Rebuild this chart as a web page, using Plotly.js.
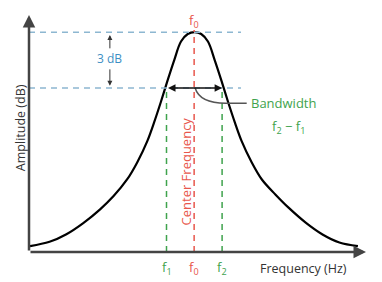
<!DOCTYPE html>
<html><head><meta charset="utf-8">
<script src="https://cdn.plot.ly/plotly-3.0.1.min.js"></script>
<style>html,body{margin:0;padding:0;background:#fff}#c{width:382px;height:282px}</style>
</head><body><div id="c"></div>
<script>
// Response curve (frequency in arbitrary units, amplitude in arbitrary dB units)
const freq = [0.3, 6.1, 11.1, 16.1, 21.1, 25.1, 29.1, 32.1, 35.1, 37.1, 39.1, 41.1, 43.1, 45.1, 47.1, 49.1,
              51.1, 53.1, 55.1, 57.1, 59.1, 61.1, 63.1, 66.1, 69.1, 73.1, 77.1, 82.1, 87.1, 92.1, 97.6];
const amp  = [2.5, 4.3, 7.5, 12.2, 18.0, 23.6, 30.6, 37.8, 46.8, 54.6, 63.2, 72.3, 81.0, 88.8, 92.0, 92.8,
              92.0, 88.8, 81.0, 72.3, 63.2, 54.6, 46.8, 37.8, 30.6, 24.3, 18.6, 12.4, 7.4, 4.0, 2.5];
const f1 = 40.8, f0 = 49.0, f2 = 57.3;
const peakLevel = 92.7, halfPowerLevel = 69.2;
const guideEnd = 62.9;

const blue = '#8db7d1', red = '#e8574c', green = '#3fa34d', dark = '#333';
const font = 'Open Sans, sans-serif';

const shapes = [
  {type:'line', x0:0, x1:guideEnd, y0:peakLevel, y1:peakLevel, line:{color:blue, width:1.5, dash:'6px,5px'}},
  {type:'line', x0:0, x1:guideEnd, y0:halfPowerLevel, y1:halfPowerLevel, line:{color:blue, width:1.5, dash:'6px,5px'}},
  {type:'line', x0:f0, x1:f0, y0:0, y1:peakLevel+1, line:{color:red, width:1.5, dash:'6px,5px'}},
  {type:'line', x0:f1, x1:f1, y0:0, y1:halfPowerLevel, line:{color:green, width:1.5, dash:'6px,5px'}},
  {type:'line', x0:f2, x1:f2, y0:0, y1:halfPowerLevel, line:{color:green, width:1.5, dash:'6px,5px'}},
  {type:'path', path:'M 49.3,69.2 Q 50.7,62.5 59.1,62.8 L 64.6,62.8', line:{color:'#555', width:1.5}}
];

const lblY = -0.068;
const ann = [
  // axes with arrows
  {x:0, y:100, ax:0, ay:0, axref:'x', ayref:'y', showarrow:true, arrowhead:2, arrowsize:1, arrowwidth:2.5, arrowcolor:'#444', text:''},
  {x:100, y:0, ax:0, ay:0, axref:'x', ayref:'y', showarrow:true, arrowhead:2, arrowsize:1, arrowwidth:2.5, arrowcolor:'#444', text:''},
  // bandwidth double arrow
  {x:f2, y:halfPowerLevel, ax:f1, ay:halfPowerLevel, axref:'x', ayref:'y', showarrow:true, arrowhead:2, startarrowhead:2, arrowside:'end+start', arrowsize:1, startarrowsize:1, arrowwidth:1.5, arrowcolor:'#111', text:''},
  // 3 dB arrows
  {x:24.0, y:91.6, ax:24.0, ay:85.3, axref:'x', ayref:'y', showarrow:true, arrowhead:2, arrowsize:1, arrowwidth:1, arrowcolor:dark, text:''},
  {x:24.0, y:70.2, ax:24.0, ay:77.7, axref:'x', ayref:'y', showarrow:true, arrowhead:2, arrowsize:1, arrowwidth:1, arrowcolor:dark, text:''},
  {x:24.0, y:81.5, text:'3 dB', showarrow:false, font:{family:font, size:12, color:'#3d8fc4'}},
  {x:f0, y:97.5, text:'f<sub>0</sub>', showarrow:false, font:{family:font, size:13, color:red}},
  {x:46.6, y:34.0, text:'Center Frequency', textangle:-90, showarrow:false, font:{family:font, size:13, color:red}},
  {x:65.3, y:62.8, text:'Bandwidth', xanchor:'left', showarrow:false, font:{family:font, size:13, color:green}},
  {x:76.9, y:52.9, text:'f<sub>2</sub> − f<sub>1</sub>', showarrow:false, font:{family:font, size:13, color:green}},
  {x:f1, y:lblY, yref:'paper', yanchor:'middle', text:'f<sub>1</sub>', showarrow:false, font:{family:font, size:13, color:green}},
  {x:f0, y:lblY, yref:'paper', yanchor:'middle', text:'f<sub>0</sub>', showarrow:false, font:{family:font, size:13, color:red}},
  {x:f2, y:lblY, yref:'paper', yanchor:'middle', text:'f<sub>2</sub>', showarrow:false, font:{family:font, size:13, color:green}},
  {x:81.6, y:lblY, yref:'paper', yanchor:'middle', text:'Frequency (Hz)', showarrow:false, font:{family:font, size:12.5, color:dark}},
  {x:-0.025, xref:'paper', xanchor:'center', y:52.5, text:'Amplitude (dB)', textangle:-90, showarrow:false, font:{family:font, size:12.5, color:dark}}
];

Plotly.newPlot('c', [{
  x: freq, y: amp, mode:'lines', line:{color:'#000', width:2.2, shape:'spline', smoothing:1}, hoverinfo:'skip'
}], {
  width:382, height:282,
  margin:{l:29, r:16, t:15, b:30},
  paper_bgcolor:'#fff', plot_bgcolor:'#fff',
  showlegend:false,
  xaxis:{range:[0,100], showgrid:false, zeroline:false, showticklabels:false, ticks:'', showline:false, fixedrange:true},
  yaxis:{range:[0,100], showgrid:false, zeroline:false, showticklabels:false, ticks:'', showline:false, fixedrange:true},
  shapes: shapes,
  annotations: ann
}, {staticPlot:true, displayModeBar:false});
</script></body></html>
